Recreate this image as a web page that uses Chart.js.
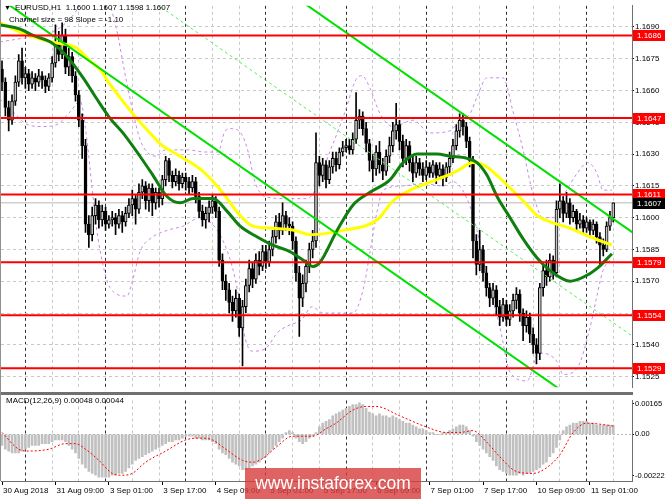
<!DOCTYPE html>
<html>
<head>
<meta charset="utf-8">
<title>EURUSD H1</title>
<script src="https://cdn.jsdelivr.net/npm/chart.js@4.4.1/dist/chart.umd.min.js"></script>
<style>
  body { margin: 0; background: #fff; font-family: "Liberation Sans", Arial, sans-serif; }
  #wrap { position: relative; width: 665px; height: 499px; overflow: hidden; background: #fff; }
  canvas { position: absolute; left: 0; }
  #main { top: 0; }
  #macd { top: 395px; }
  .txt { position: absolute; font-size: 8px; color: #000; white-space: pre; line-height: 10px; }
  #sep { position: absolute; left: 0; top: 392px; width: 633px; height: 3px; background: #707070; }
  #edge { position: absolute; left: 0; top: 0; width: 1px; height: 481px; background: #909090; }
  #mark { position: absolute; left: 245px; top: 468px; width: 176px; height: 31px; background: rgba(216, 60, 60, 0.8);
          color: #fff; font-size: 17.5px; line-height: 31px; text-align: center; }
</style>
</head>
<body>
<div id="wrap">
  <canvas id="main" width="665" height="393"></canvas>
  <canvas id="macd" width="665" height="104"></canvas>
  <div id="sep"></div>
  <div id="edge"></div>
  <div class="txt" style="left:4px;top:3px;font-size:7px">▼</div>
  <div class="txt" id="head" style="left:15px;top:3px"></div>
  <div class="txt" style="left:9px;top:15px">Channel size = 98 Slope = -1.10</div>
  <div class="txt" id="macdHead" style="left:6px;top:396px"></div>
  <div id="mark">www.instaforex.com</div>
</div>
<script>
// Hourly candles, bar 0 = 30 Aug 17:00
const opens = [1.1670,1.1664,1.1652,1.1646,1.1655,1.1664,1.1674,1.1666,1.1668,1.1663,
  1.1666,1.1664,1.1667,1.1665,1.1662,1.1666,1.1673,1.1682,1.1677,1.1686,
  1.1671,1.1676,1.1667,1.1658,1.1646,1.1634,1.1597,1.1592,1.1601,1.1606,
  1.1599,1.1603,1.1597,1.1599,1.1600,1.1597,1.1601,1.1598,1.1602,1.1606,
  1.1609,1.1604,1.1612,1.1615,1.1608,1.1614,1.1607,1.1612,1.1609,1.1618,
  1.1627,1.1620,1.1617,1.1620,1.1616,1.1619,1.1617,1.1614,1.1617,1.1610,
  1.1603,1.1599,1.1602,1.1605,1.1608,1.1603,1.1580,1.1570,1.1566,1.1560,
  1.1556,1.1562,1.1548,1.1558,1.1568,1.1576,1.1571,1.1580,1.1577,1.1584,
  1.1579,1.1585,1.1591,1.1598,1.1594,1.1601,1.1597,1.1596,1.1589,1.1574,
  1.1562,1.1569,1.1577,1.1585,1.1589,1.1626,1.1620,1.1625,1.1618,1.1624,
  1.1628,1.1625,1.1631,1.1633,1.1634,1.1632,1.1637,1.1646,1.1648,1.1642,
  1.1635,1.1627,1.1623,1.1631,1.1625,1.1622,1.1629,1.1634,1.1641,1.1644,
  1.1636,1.1628,1.1634,1.1626,1.1621,1.1626,1.1623,1.1620,1.1624,1.1621,
  1.1625,1.1620,1.1623,1.1619,1.1624,1.1628,1.1634,1.1641,1.1646,1.1643,
  1.1636,1.1627,1.1589,1.1578,1.1585,1.1574,1.1567,1.1562,1.1566,1.1558,
  1.1553,1.1559,1.1552,1.1556,1.1561,1.1564,1.1555,1.1549,1.1553,1.1545,
  1.1540,1.1536,1.1567,1.1575,1.1572,1.1580,1.1574,1.1604,1.1608,1.1602,
  1.1607,1.1600,1.1603,1.1597,1.1599,1.1595,1.1598,1.1594,1.1597,1.1591,
  1.1587,1.1585,1.1596,1.1600];
const highs = [1.1674,1.1666,1.1655,1.1658,1.1667,1.1677,1.1680,1.1671,1.1670,1.1669,
  1.1668,1.1670,1.1669,1.1667,1.1668,1.1676,1.1691,1.1688,1.1692,1.1689,
  1.1680,1.1678,1.1669,1.1660,1.1649,1.1637,1.1601,1.1605,1.1609,1.1608,
  1.1606,1.1605,1.1601,1.1603,1.1602,1.1604,1.1603,1.1605,1.1609,1.1613,
  1.1611,1.1616,1.1618,1.1617,1.1616,1.1616,1.1614,1.1614,1.1620,1.1629,
  1.1628,1.1622,1.1623,1.1622,1.1621,1.1621,1.1619,1.1620,1.1619,1.1612,
  1.1606,1.1605,1.1608,1.1611,1.1610,1.1605,1.1583,1.1573,1.1569,1.1563,
  1.1566,1.1564,1.1561,1.1571,1.1580,1.1579,1.1583,1.1584,1.1587,1.1587,
  1.1589,1.1594,1.1601,1.1602,1.1607,1.1603,1.1600,1.1598,1.1591,1.1577,
  1.1573,1.1580,1.1588,1.1594,1.1640,1.1629,1.1628,1.1627,1.1627,1.1631,
  1.1631,1.1633,1.1636,1.1637,1.1637,1.1640,1.1659,1.1651,1.1650,1.1645,
  1.1637,1.1630,1.1634,1.1636,1.1628,1.1632,1.1638,1.1645,1.1654,1.1646,
  1.1639,1.1637,1.1636,1.1629,1.1629,1.1628,1.1626,1.1627,1.1626,1.1627,
  1.1626,1.1626,1.1625,1.1626,1.1631,1.1637,1.1644,1.1649,1.1649,1.1645,
  1.1638,1.1629,1.1592,1.1594,1.1587,1.1577,1.1569,1.1569,1.1568,1.1561,
  1.1562,1.1561,1.1559,1.1564,1.1567,1.1566,1.1557,1.1556,1.1555,1.1548,
  1.1543,1.1569,1.1578,1.1580,1.1583,1.1582,1.1608,1.1616,1.1610,1.1612,
  1.1609,1.1606,1.1604,1.1602,1.1601,1.1600,1.1599,1.1599,1.1598,1.1593,
  1.1590,1.1598,1.1603,1.1607];
const lows = [1.1660,1.1648,1.1641,1.1644,1.1653,1.1662,1.1663,1.1661,1.1660,1.1661,
  1.1660,1.1662,1.1661,1.1659,1.1660,1.1664,1.1671,1.1674,1.1675,1.1668,
  1.1667,1.1664,1.1655,1.1643,1.1628,1.1593,1.1586,1.1589,1.1597,1.1595,
  1.1596,1.1594,1.1595,1.1596,1.1592,1.1595,1.1593,1.1596,1.1600,1.1601,
  1.1597,1.1602,1.1609,1.1604,1.1603,1.1601,1.1604,1.1605,1.1606,1.1615,
  1.1617,1.1614,1.1615,1.1613,1.1614,1.1613,1.1611,1.1612,1.1607,1.1600,
  1.1596,1.1595,1.1598,1.1602,1.1600,1.1577,1.1566,1.1561,1.1555,1.1551,
  1.1553,1.1544,1.1530,1.1555,1.1565,1.1567,1.1569,1.1573,1.1575,1.1576,
  1.1577,1.1582,1.1588,1.1590,1.1592,1.1594,1.1592,1.1585,1.1570,1.1544,
  1.1558,1.1565,1.1574,1.1581,1.1586,1.1615,1.1617,1.1614,1.1616,1.1621,
  1.1622,1.1623,1.1629,1.1631,1.1630,1.1630,1.1635,1.1642,1.1639,1.1631,
  1.1622,1.1617,1.1620,1.1621,1.1618,1.1620,1.1626,1.1631,1.1637,1.1632,
  1.1624,1.1625,1.1622,1.1617,1.1619,1.1620,1.1617,1.1618,1.1619,1.1619,
  1.1616,1.1618,1.1615,1.1617,1.1620,1.1626,1.1632,1.1638,1.1639,1.1633,
  1.1624,1.1581,1.1573,1.1575,1.1570,1.1563,1.1558,1.1559,1.1554,1.1549,
  1.1551,1.1549,1.1549,1.1553,1.1557,1.1551,1.1542,1.1546,1.1541,1.1536,
  1.1531,1.1533,1.1563,1.1568,1.1570,1.1571,1.1572,1.1600,1.1598,1.1600,
  1.1597,1.1598,1.1594,1.1595,1.1592,1.1593,1.1591,1.1592,1.1588,1.1578,
  1.1582,1.1584,1.1594,1.1598];
const closes = [1.1664,1.1652,1.1646,1.1655,1.1664,1.1674,1.1666,1.1668,1.1663,1.1666,
  1.1664,1.1667,1.1665,1.1662,1.1666,1.1673,1.1682,1.1677,1.1686,1.1671,
  1.1676,1.1667,1.1658,1.1646,1.1634,1.1597,1.1592,1.1601,1.1606,1.1599,
  1.1603,1.1597,1.1599,1.1600,1.1597,1.1601,1.1598,1.1602,1.1606,1.1609,
  1.1604,1.1612,1.1615,1.1608,1.1614,1.1607,1.1612,1.1609,1.1618,1.1627,
  1.1620,1.1617,1.1620,1.1616,1.1619,1.1617,1.1614,1.1617,1.1610,1.1603,
  1.1599,1.1602,1.1605,1.1608,1.1603,1.1580,1.1570,1.1566,1.1560,1.1556,
  1.1562,1.1548,1.1558,1.1568,1.1576,1.1571,1.1580,1.1577,1.1584,1.1579,
  1.1585,1.1591,1.1598,1.1594,1.1601,1.1597,1.1596,1.1589,1.1574,1.1562,
  1.1569,1.1577,1.1585,1.1589,1.1626,1.1620,1.1625,1.1618,1.1624,1.1628,
  1.1625,1.1631,1.1633,1.1634,1.1632,1.1637,1.1646,1.1648,1.1642,1.1635,
  1.1627,1.1623,1.1631,1.1625,1.1622,1.1629,1.1634,1.1641,1.1644,1.1636,
  1.1628,1.1634,1.1626,1.1621,1.1626,1.1623,1.1620,1.1624,1.1621,1.1625,
  1.1620,1.1623,1.1619,1.1624,1.1628,1.1634,1.1641,1.1646,1.1643,1.1636,
  1.1627,1.1589,1.1578,1.1585,1.1574,1.1567,1.1562,1.1566,1.1558,1.1553,
  1.1559,1.1552,1.1556,1.1561,1.1564,1.1555,1.1549,1.1553,1.1545,1.1540,
  1.1536,1.1567,1.1575,1.1572,1.1580,1.1574,1.1604,1.1608,1.1602,1.1607,
  1.1600,1.1603,1.1597,1.1599,1.1595,1.1598,1.1594,1.1597,1.1591,1.1587,
  1.1585,1.1596,1.1600,1.1607];

// Slow MA (yellow) and fast MA (dark green), read at bar positions
const yellowBars = [-0.6,6.3,14.4,22.5,26.3,29.3,32.3,39.2,44.3,47.3,53.3,59.3,64.4,67.4,71.3,75.1,81.2,87.7,
  92.2,102.1,112.3,117.1,122.2,130.2,136.2,141.0,144.0,148.2,152.1,156.0,160.2,164.1,170.1,176.0,182.6];
const yellowVals = [1.1692,1.1687,1.1683,1.1680,1.1674,1.1670,1.1663,1.1649,1.1640,1.1635,1.1629,1.1623,1.1615,
  1.1609,1.1601,1.1596,1.1595,1.1594,1.1592,1.1594,1.1599,1.1608,1.1613,1.1618,1.1622,1.1626,1.1625,1.1620,
  1.1614,1.1608,1.1601,1.1598,1.1595,1.1591,1.1587];
const greenBars = [-0.6,5.4,9.3,14.4,19.5,24.3,28.4,32.3,36.2,41.3,45.2,49.4,53.3,57.2,63.2,67.4,71.3,76.3,81.1,
  86.2,90.1,93.1,95.2,100.3,105.1,110.2,116.2,120.1,124.3,130.2,134.1,139.2,142.2,145.2,148.2,152.1,156.0,
  160.2,164.1,168.0,170.1,174.1,178.1,182.6];
const greenVals = [1.1691,1.1689,1.1686,1.1683,1.1676,1.1666,1.1656,1.1647,1.1640,1.1629,1.1620,1.1610,1.1607,
  1.1609,1.1609,1.1603,1.1596,1.1591,1.1587,1.1584,1.1580,1.1577,1.1579,1.1594,1.1606,1.1612,1.1618,1.1626,
  1.1630,1.1630,1.1629,1.1628,1.1626,1.1620,1.1610,1.1600,1.1590,1.1581,1.1575,1.1571,1.1570,1.1572,1.1576,1.1583];

// Bands (violet dashed)
const upperBars = [-0.6,7.5,14.4,20.4,23.4,25.4,29.3,31.4,32.3,34.7,36.2,37.7,39.2,41.3,43.4,46.4,48.8,55.7,
  60.8,64.7,66.8,68.9,71.9,73.7,75.7,78.7,85.6,91.3,99.1,102.7,106.3,107.8,110.2,113.2,117.1,123.1,128.1,
  134.1,137.1,140.1,142.2,145.2,150.0,153.0,156.0,159.0,162.0,165.0,168.0,172.2,175.3,178.1,179.9,182.6];
const upperVals = [1.1683,1.1685,1.1687,1.1694,1.1701,1.1710,1.1715,1.1706,1.1701,1.1686,1.1673,1.1661,1.1650,
  1.1637,1.1631,1.1629,1.1632,1.1632,1.1631,1.1631,1.1641,1.1642,1.1639,1.1631,1.1617,1.1610,1.1609,1.1609,
  1.1635,1.1650,1.1666,1.1667,1.1661,1.1649,1.1643,1.1646,1.1640,1.1641,1.1646,1.1649,1.1657,1.1666,1.1666,
  1.1650,1.1632,1.1611,1.1600,1.1600,1.1610,1.1621,1.1626,1.1621,1.1613,1.1613];
const lowerBars = [-0.6,3.3,7.5,12.3,16.5,20.4,23.4,25.4,26.9,28.4,30.2,32.3,37.4,39.2,41.3,44.3,49.4,54.2,
  59.3,62.9,65.9,68.9,70.7,72.8,74.9,78.7,82.6,85.6,89.8,92.8,96.1,102.1,105.1,108.1,110.2,112.3,114.1,
  120.1,126.0,132.0,135.0,139.2,142.2,146.1,149.1,152.1,157.2,160.2,162.0,166.2,168.0,172.2,176.0,178.1,179.9,182.6];
const lowerVals = [1.1656,1.1650,1.1644,1.1643,1.1644,1.1650,1.1655,1.1637,1.1615,1.1594,1.1578,1.1567,1.1563,
  1.1571,1.1584,1.1590,1.1594,1.1596,1.1600,1.1597,1.1590,1.1577,1.1564,1.1543,1.1537,1.1538,1.1546,1.1549,
  1.1552,1.1558,1.1555,1.1555,1.1555,1.1566,1.1584,1.1603,1.1613,1.1615,1.1616,1.1615,1.1617,1.1609,1.1594,
  1.1566,1.1548,1.1527,1.1523,1.1535,1.1536,1.1532,1.1526,1.1529,1.1548,1.1563,1.1575,1.1581];

// Equidistant channel (ends beyond both edges)
const channelBars = [-1, 189];
const channelLow = [1.17038, 1.14948];
const channelMid = [1.17528, 1.15438];
const channelHigh = [1.18018, 1.15928];

// Horizontal levels
const levels = [1.1686, 1.1647, 1.1611, 1.1579, 1.1554, 1.1529];
const priceTicks = [1.1525, 1.1540, 1.1555, 1.1570, 1.1585, 1.1600, 1.1615, 1.1630, 1.1645, 1.1660, 1.1675, 1.1690];

// MACD(12,26,9)
const macdHist = [-0.0006,-0.0008,-0.0009,-0.0010,-0.0010,-0.0010,-0.0009,-0.0008,-0.0007,-0.0006,
  -0.0006,-0.0006,-0.0005,-0.0005,-0.0005,-0.0004,-0.0003,-0.0003,-0.0003,-0.0004,
  -0.0006,-0.0008,-0.0010,-0.0013,-0.0016,-0.0018,-0.0020,-0.0021,-0.0022,-0.0023,
  -0.0023,-0.0023,-0.0023,-0.0022,-0.0022,-0.0021,-0.0021,-0.0020,-0.0018,-0.0016,
  -0.0014,-0.0013,-0.0012,-0.0011,-0.0010,-0.0009,-0.0008,-0.0007,-0.0006,-0.0005,
  -0.0004,-0.0004,-0.0003,-0.0003,-0.0002,-0.0001,-0.0001,-0.0001,-0.0002,-0.0002,
  -0.0003,-0.0003,-0.0003,-0.0004,-0.0005,-0.0008,-0.0010,-0.0011,-0.0013,-0.0015,
  -0.0016,-0.0017,-0.0019,-0.0019,-0.0018,-0.0017,-0.0016,-0.0015,-0.0013,-0.0012,
  -0.0010,-0.0008,-0.0006,-0.0004,-0.0002,0.0001,0.0002,0.0001,-0.0002,-0.0004,
  -0.0005,-0.0004,-0.0002,-0.0001,0.0001,0.0004,0.0006,0.0007,0.0008,0.0010,
  0.0011,0.0012,0.0013,0.0014,0.0015,0.0016,0.0016,0.0017,0.0016,0.0014,
  0.0012,0.0011,0.0010,0.0011,0.0010,0.0010,0.0009,0.0010,0.0009,0.0008,
  0.0007,0.0006,0.0006,0.0005,0.0004,0.0003,0.0003,0.0002,0.0001,0.0001,
  0.0000,0.0000,0.0001,0.0001,0.0002,0.0003,0.0004,0.0005,0.0005,0.0004,
  0.0002,-0.0001,-0.0004,-0.0006,-0.0008,-0.0010,-0.0012,-0.0014,-0.0017,-0.0019,
  -0.0020,-0.0021,-0.0022,-0.0022,-0.0022,-0.0021,-0.0022,-0.0021,-0.0021,-0.0020,
  -0.0019,-0.0018,-0.0016,-0.0015,-0.0012,-0.0010,-0.0007,-0.0003,0.0002,0.0004,
  0.0005,0.0006,0.0006,0.0007,0.0007,0.0007,0.0006,0.0006,0.0005,0.0005,
  0.0005,0.0005,0.0005,0.00048];
const signalBars = [0,5,8,14,19,22,25,29,33,36,39,43,49,55,59,63,67,72,75,78,82,87,93,97,100,105,109,112,
  119,127,133,137,141,145,149,154,159,163,167,171,175,181,183];
const signalVals = [0.0001,-0.0008,-0.0009,-0.0008,-0.0005,-0.0005,-0.0008,-0.0014,-0.0021,-0.0022,-0.0021,
  -0.0015,-0.0009,-0.0003,-0.0002,-0.0003,-0.0008,-0.0014,-0.0015,-0.0013,-0.0007,-0.0001,-0.0001,0.0003,
  0.0006,0.0013,0.0015,0.0015,0.0010,0.0004,0.0001,0.0001,0.0002,-0.0004,-0.0012,-0.0020,-0.0021,-0.0018,
  -0.0011,0.0001,0.0006,0.0005,0.00044];
const macdTicks = [-0.00222, 0, 0.00165];
const macdTickText = ['-0.00222', '0.00', '0.00165'];

// Time axis
const labelBars = [0, 16, 32, 48, 64, 80, 96, 112, 128, 144, 160, 176];
const labelTexts = ['30 Aug 2018', '31 Aug 09:00', '3 Sep 01:00', '3 Sep 17:00', '4 Sep 09:00', '5 Sep 01:00',
  '5 Sep 17:00', '6 Sep 09:00', '7 Sep 01:00', '7 Sep 17:00', '10 Sep 09:00', '11 Sep 01:00'];

const xMin = -0.3, xMax = 188.6;
const last = closes.length - 1;
const lastPrice = closes[last];
const FONT = { family: '"Liberation Sans", Arial, sans-serif', size: 8 };

document.getElementById('head').textContent =
  'EURUSD,H1  ' + [opens[last], highs[last], lows[last], closes[last]].map(v => v.toFixed(4)).join(' ');
document.getElementById('macdHead').textContent =
  'MACD(12,26,9) ' + macdHist[last].toFixed(5) + ' ' + signalVals[signalVals.length - 1].toFixed(5);

const pts = (xs, ys) => xs.map((x, i) => ({ x, y: ys[i] }));
const line = (data, color, width, order, extra) => Object.assign({
  type: 'line', data, borderColor: color, borderWidth: width, pointRadius: 0, fill: false, order
}, extra || {});

// vertical grid every 8 bars, day separators every 24
function timeGrid(scale) {
  scale.ticks = [];
  for (let b = 7; b <= xMax; b += 8) scale.ticks.push({ value: b });
}
const gridColor = c => ((c.tick.value - 7) % 24 === 0 ? '#303030' : '#c8c8c8');

const axisTags = {
  id: 'axisTags',
  afterDraw(chart) {
    const { ctx } = chart;
    const y = chart.scales.y;
    ctx.save();
    ctx.font = '8px "Liberation Sans", Arial, sans-serif';
    ctx.textBaseline = 'middle';
    const tag = (v, bg) => {
      const py = Math.round(y.getPixelForValue(v));
      ctx.fillStyle = bg;
      ctx.fillRect(633, py - 5, 32, 11);
      ctx.fillStyle = '#fff';
      ctx.fillText(v.toFixed(4), 637, py + 0.5);
    };
    levels.forEach(v => tag(v, '#ff0000'));
    tag(lastPrice, '#000');
    ctx.restore();
  }
};

new Chart(document.getElementById('main'), {
  type: 'bar',
  data: {
    datasets: [
      ...levels.map(v => line([{ x: -2, y: v }, { x: 190, y: v }], '#ff0000', 2, 1)),
      line(pts(channelBars, channelHigh), '#00e000', 2, 2),
      line(pts(channelBars, channelLow), '#00e000', 2, 2),
      line(pts(channelBars, channelMid), '#55ee55', 1, 2, { borderDash: [3, 3] }),
      line(pts(greenBars, greenVals), '#0f7f0f', 3, 3, { cubicInterpolationMode: 'monotone' }),
      line(pts(yellowBars, yellowVals), '#ffff00', 3, 4, { cubicInterpolationMode: 'monotone' }),
      {
        type: 'bar', order: 5, grouped: false, barThickness: 3,
        data: closes.map((c, i) => ({ x: i, y: [opens[i], c] })),
        backgroundColor: closes.map((c, i) => (c >= opens[i] ? '#c4c4c4' : '#000000')),
        borderColor: '#000', borderWidth: 1, borderSkipped: false
      },
      {
        type: 'bar', order: 6, grouped: false, barThickness: 1,
        data: highs.map((h, i) => ({ x: i, y: [lows[i], h] })),
        backgroundColor: '#000'
      },
      line(pts(upperBars, upperVals), '#c58ae8', 1, 7, { borderDash: [3, 3], cubicInterpolationMode: 'monotone' }),
      line(pts(lowerBars, lowerVals), '#c58ae8', 1, 7, { borderDash: [3, 3], cubicInterpolationMode: 'monotone' }),
      line([{ x: -2, y: lastPrice }, { x: 190, y: lastPrice }], '#cfcfcf', 1.5, 8)
    ]
  },
  options: {
    responsive: false, animation: false, devicePixelRatio: 1, events: [],
    layout: { padding: { left: 1, top: 2, right: 0, bottom: 1 } },
    plugins: { legend: { display: false }, tooltip: { enabled: false } },
    scales: {
      x: {
        type: 'linear', min: xMin, max: xMax, offset: false,
        grid: { offset: false, color: gridColor, drawTicks: false },
        border: { display: false, dash: [3, 3] },
        ticks: { display: false },
        afterBuildTicks: timeGrid,
        afterFit: s => { s.height = 0; }
      },
      y: {
        type: 'linear', position: 'right', min: 1.1520, max: 1.1700,
        grid: { color: '#c8c8c8', tickColor: '#000', tickLength: 2 },
        border: { color: '#707070', width: 1, dash: [3, 3] },
        ticks: { font: FONT, color: '#000', padding: 1, crossAlign: 'near', callback: v => v.toFixed(4) },
        afterBuildTicks: s => { s.ticks = priceTicks.map(v => ({ value: v })); },
        afterFit: s => { s.width = 33; }
      }
    }
  },
  plugins: [axisTags]
});

new Chart(document.getElementById('macd'), {
  type: 'bar',
  data: {
    datasets: [
      line(pts(signalBars, signalVals), '#ff0000', 1, 1, { borderDash: [2, 2], cubicInterpolationMode: 'monotone', xAxisID: 'x' }),
      {
        type: 'bar', order: 2, grouped: false, barThickness: 2, xAxisID: 'x',
        data: macdHist.map((v, i) => ({ x: i, y: v })),
        backgroundColor: '#c0c0c0'
      }
    ]
  },
  options: {
    responsive: false, animation: false, devicePixelRatio: 1, events: [],
    layout: { padding: { left: 1, top: 1, right: 0, bottom: 0 } },
    plugins: { legend: { display: false }, tooltip: { enabled: false } },
    scales: {
      x: {
        type: 'linear', min: xMin, max: xMax, offset: false,
        grid: { offset: false, color: gridColor, drawTicks: false },
        border: { display: false, dash: [3, 3] },
        ticks: { display: false },
        afterBuildTicks: timeGrid,
        afterFit: s => { s.height = 0; }
      },
      xl: {
        type: 'linear', axis: 'x', position: 'bottom', min: xMin, max: xMax, offset: false,
        grid: { offset: false, drawOnChartArea: false, color: '#000', tickLength: 4 },
        border: { display: true, color: '#707070', width: 1 },
        ticks: {
          font: FONT, color: '#000', padding: 1, align: 'start', labelOffset: 1,
          autoSkip: false, maxRotation: 0, minRotation: 0,
          callback: (v, i) => labelTexts[i]
        },
        afterBuildTicks: s => { s.ticks = labelBars.map(v => ({ value: v })); },
        afterFit: s => { s.height = 18; }
      },
      y: {
        type: 'linear', position: 'right', min: -0.00251, max: 0.00182,
        grid: { color: c => (c.tick && c.tick.value === 0 ? '#b4b4b4' : 'rgba(0,0,0,0)'), tickColor: '#000', tickLength: 2 },
        border: { color: '#707070', width: 1, dash: [2, 2] },
        ticks: { font: { family: FONT.family, size: 7.5 }, color: '#000', padding: 1, callback: (v, i) => macdTickText[i] },
        afterBuildTicks: s => { s.ticks = macdTicks.map(v => ({ value: v })); },
        afterFit: s => { s.width = 33; }
      }
    }
  }
});
</script>
</body>
</html>
